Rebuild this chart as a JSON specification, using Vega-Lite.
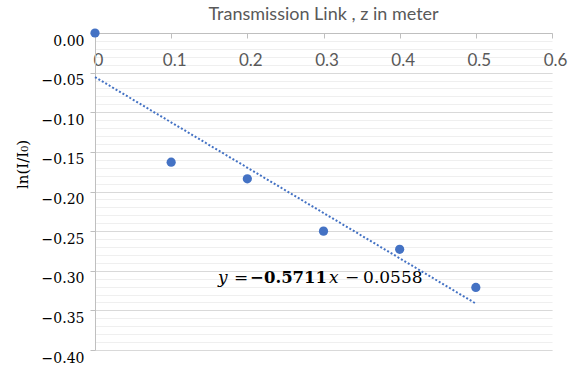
{
  "$schema": "https://vega.github.io/schema/vega-lite/v6.json",
  "width": 457,
  "height": 317,
  "autosize": {"type": "none"},
  "padding": {"left": 95, "top": 33, "right": 22, "bottom": 15},
  "background": "white",
  "title": {"text": "Transmission Link , z in meter", "font": "Lato", "fontSize": 18, "fontWeight": "normal", "color": "#595959", "anchor": "middle", "offset": 4},
  "config": {"view": {"stroke": null}},
  "data": {"values": [
    {"z": 0.0, "lnI": 0.0},
    {"z": 0.1, "lnI": -0.163},
    {"z": 0.2, "lnI": -0.184},
    {"z": 0.3, "lnI": -0.250},
    {"z": 0.4, "lnI": -0.273},
    {"z": 0.5, "lnI": -0.321}
  ]},
  "resolve": {"axis": {"y": "independent"}},
  "layer": [
    {
      "transform": [{"regression": "lnI", "on": "z", "extent": [0, 0.5]}],
      "mark": {"type": "line", "color": "#4472C4", "strokeWidth": 2, "strokeDash": [2, 2], "strokeCap": "butt", "clip": false},
      "encoding": {
        "x": {"field": "z", "type": "quantitative", "scale": {"domain": [0, 0.6], "nice": false, "zero": false}},
        "y": {"field": "lnI", "type": "quantitative", "scale": {"domain": [-0.4, 0], "nice": false, "zero": false},
          "axis": {"orient": "left", "values": [0,-0.01,-0.02,-0.03,-0.04,-0.05,-0.06,-0.07,-0.08,-0.09,-0.1,-0.11,-0.12,-0.13,-0.14,-0.15,-0.16,-0.17,-0.18,-0.19,-0.2,-0.21,-0.22,-0.23,-0.24,-0.25,-0.26,-0.27,-0.28,-0.29,-0.3,-0.31,-0.32,-0.33,-0.34,-0.35,-0.36,-0.37,-0.38,-0.39,-0.4],
            "grid": true, "gridColor": "#efefef", "gridWidth": 1, "labels": false, "ticks": false, "domain": false, "title": null}}
      }
    },
    {
      "mark": {"type": "point", "filled": true, "opacity": 1, "color": "#4472C4", "size": 85, "clip": false},
      "encoding": {
        "x": {"field": "z", "type": "quantitative",
          "axis": {"orient": "bottom", "offset": -317, "values": [0, 0.1, 0.2, 0.3, 0.4, 0.5, 0.6], "format": "~g",
            "grid": false, "domainColor": "#bfbfbf", "tickColor": "#bfbfbf", "tickSize": 5,
            "labelFont": "Lato", "labelFontSize": 17, "labelColor": "#595959", "labelPadding": 14, "labelOffset": 3,
            "labelFlush": false, "labelOverlap": false, "title": null}},
        "y": {"field": "lnI", "type": "quantitative",
          "axis": {"orient": "left", "values": [0, -0.05, -0.1, -0.15, -0.2, -0.25, -0.3, -0.35, -0.4], "format": ".2f",
            "grid": true, "gridColor": "#d9d9d9", "domainColor": "#bfbfbf", "tickColor": "#bfbfbf", "tickSize": 5,
            "labelFont": "DejaVu Serif", "labelFontSize": 14, "labelColor": "#000000", "labelPadding": 6, "labelOffset": 8,
            "labelFlush": false, "labelOverlap": false,
            "title": "ln(I/I₀)", "titleFont": "DejaVu Serif", "titleFontSize": 15, "titleFontWeight": "normal", "titleColor": "#000000",
            "titleX": -73, "titleY": 131, "titleAngle": -90, "titleAlign": "center", "titleBaseline": "middle"}}
      }
    },
    {
      "data": {"values": [{"z": 0.1616, "lnI": -0.3095}]},
      "mark": {"type": "text", "text": "y", "font": "DejaVu Serif", "fontStyle": "italic", "fontSize": 17, "align": "left", "baseline": "middle", "color": "#000000", "dx": 0},
      "encoding": {"x": {"field": "z", "type": "quantitative"}, "y": {"field": "lnI", "type": "quantitative", "axis": null}}
    },
    {
      "data": {"values": [{"z": 0.1616, "lnI": -0.3095}]},
      "mark": {"type": "text", "text": "=", "font": "DejaVu Serif", "fontSize": 17, "align": "left", "baseline": "middle", "color": "#000000", "dx": 16},
      "encoding": {"x": {"field": "z", "type": "quantitative"}, "y": {"field": "lnI", "type": "quantitative", "axis": null}}
    },
    {
      "data": {"values": [{"z": 0.1616, "lnI": -0.3095}]},
      "mark": {"type": "text", "text": "−0.5711", "font": "DejaVu Serif", "fontWeight": "bold", "fontSize": 16.5, "align": "left", "baseline": "middle", "color": "#000000", "dx": 32},
      "encoding": {"x": {"field": "z", "type": "quantitative"}, "y": {"field": "lnI", "type": "quantitative", "axis": null}}
    },
    {
      "data": {"values": [{"z": 0.1616, "lnI": -0.3095}]},
      "mark": {"type": "text", "text": "x", "font": "DejaVu Serif", "fontStyle": "italic", "fontSize": 17, "align": "left", "baseline": "middle", "color": "#000000", "dx": 111},
      "encoding": {"x": {"field": "z", "type": "quantitative"}, "y": {"field": "lnI", "type": "quantitative", "axis": null}}
    },
    {
      "data": {"values": [{"z": 0.1616, "lnI": -0.3095}]},
      "mark": {"type": "text", "text": "−", "font": "DejaVu Serif", "fontSize": 17, "align": "left", "baseline": "middle", "color": "#000000", "dx": 127},
      "encoding": {"x": {"field": "z", "type": "quantitative"}, "y": {"field": "lnI", "type": "quantitative", "axis": null}}
    },
    {
      "data": {"values": [{"z": 0.1616, "lnI": -0.3095}]},
      "mark": {"type": "text", "text": "0.0558", "font": "DejaVu Serif", "fontSize": 17, "align": "left", "baseline": "middle", "color": "#000000", "dx": 145},
      "encoding": {"x": {"field": "z", "type": "quantitative"}, "y": {"field": "lnI", "type": "quantitative", "axis": null}}
    }
  ]
}
